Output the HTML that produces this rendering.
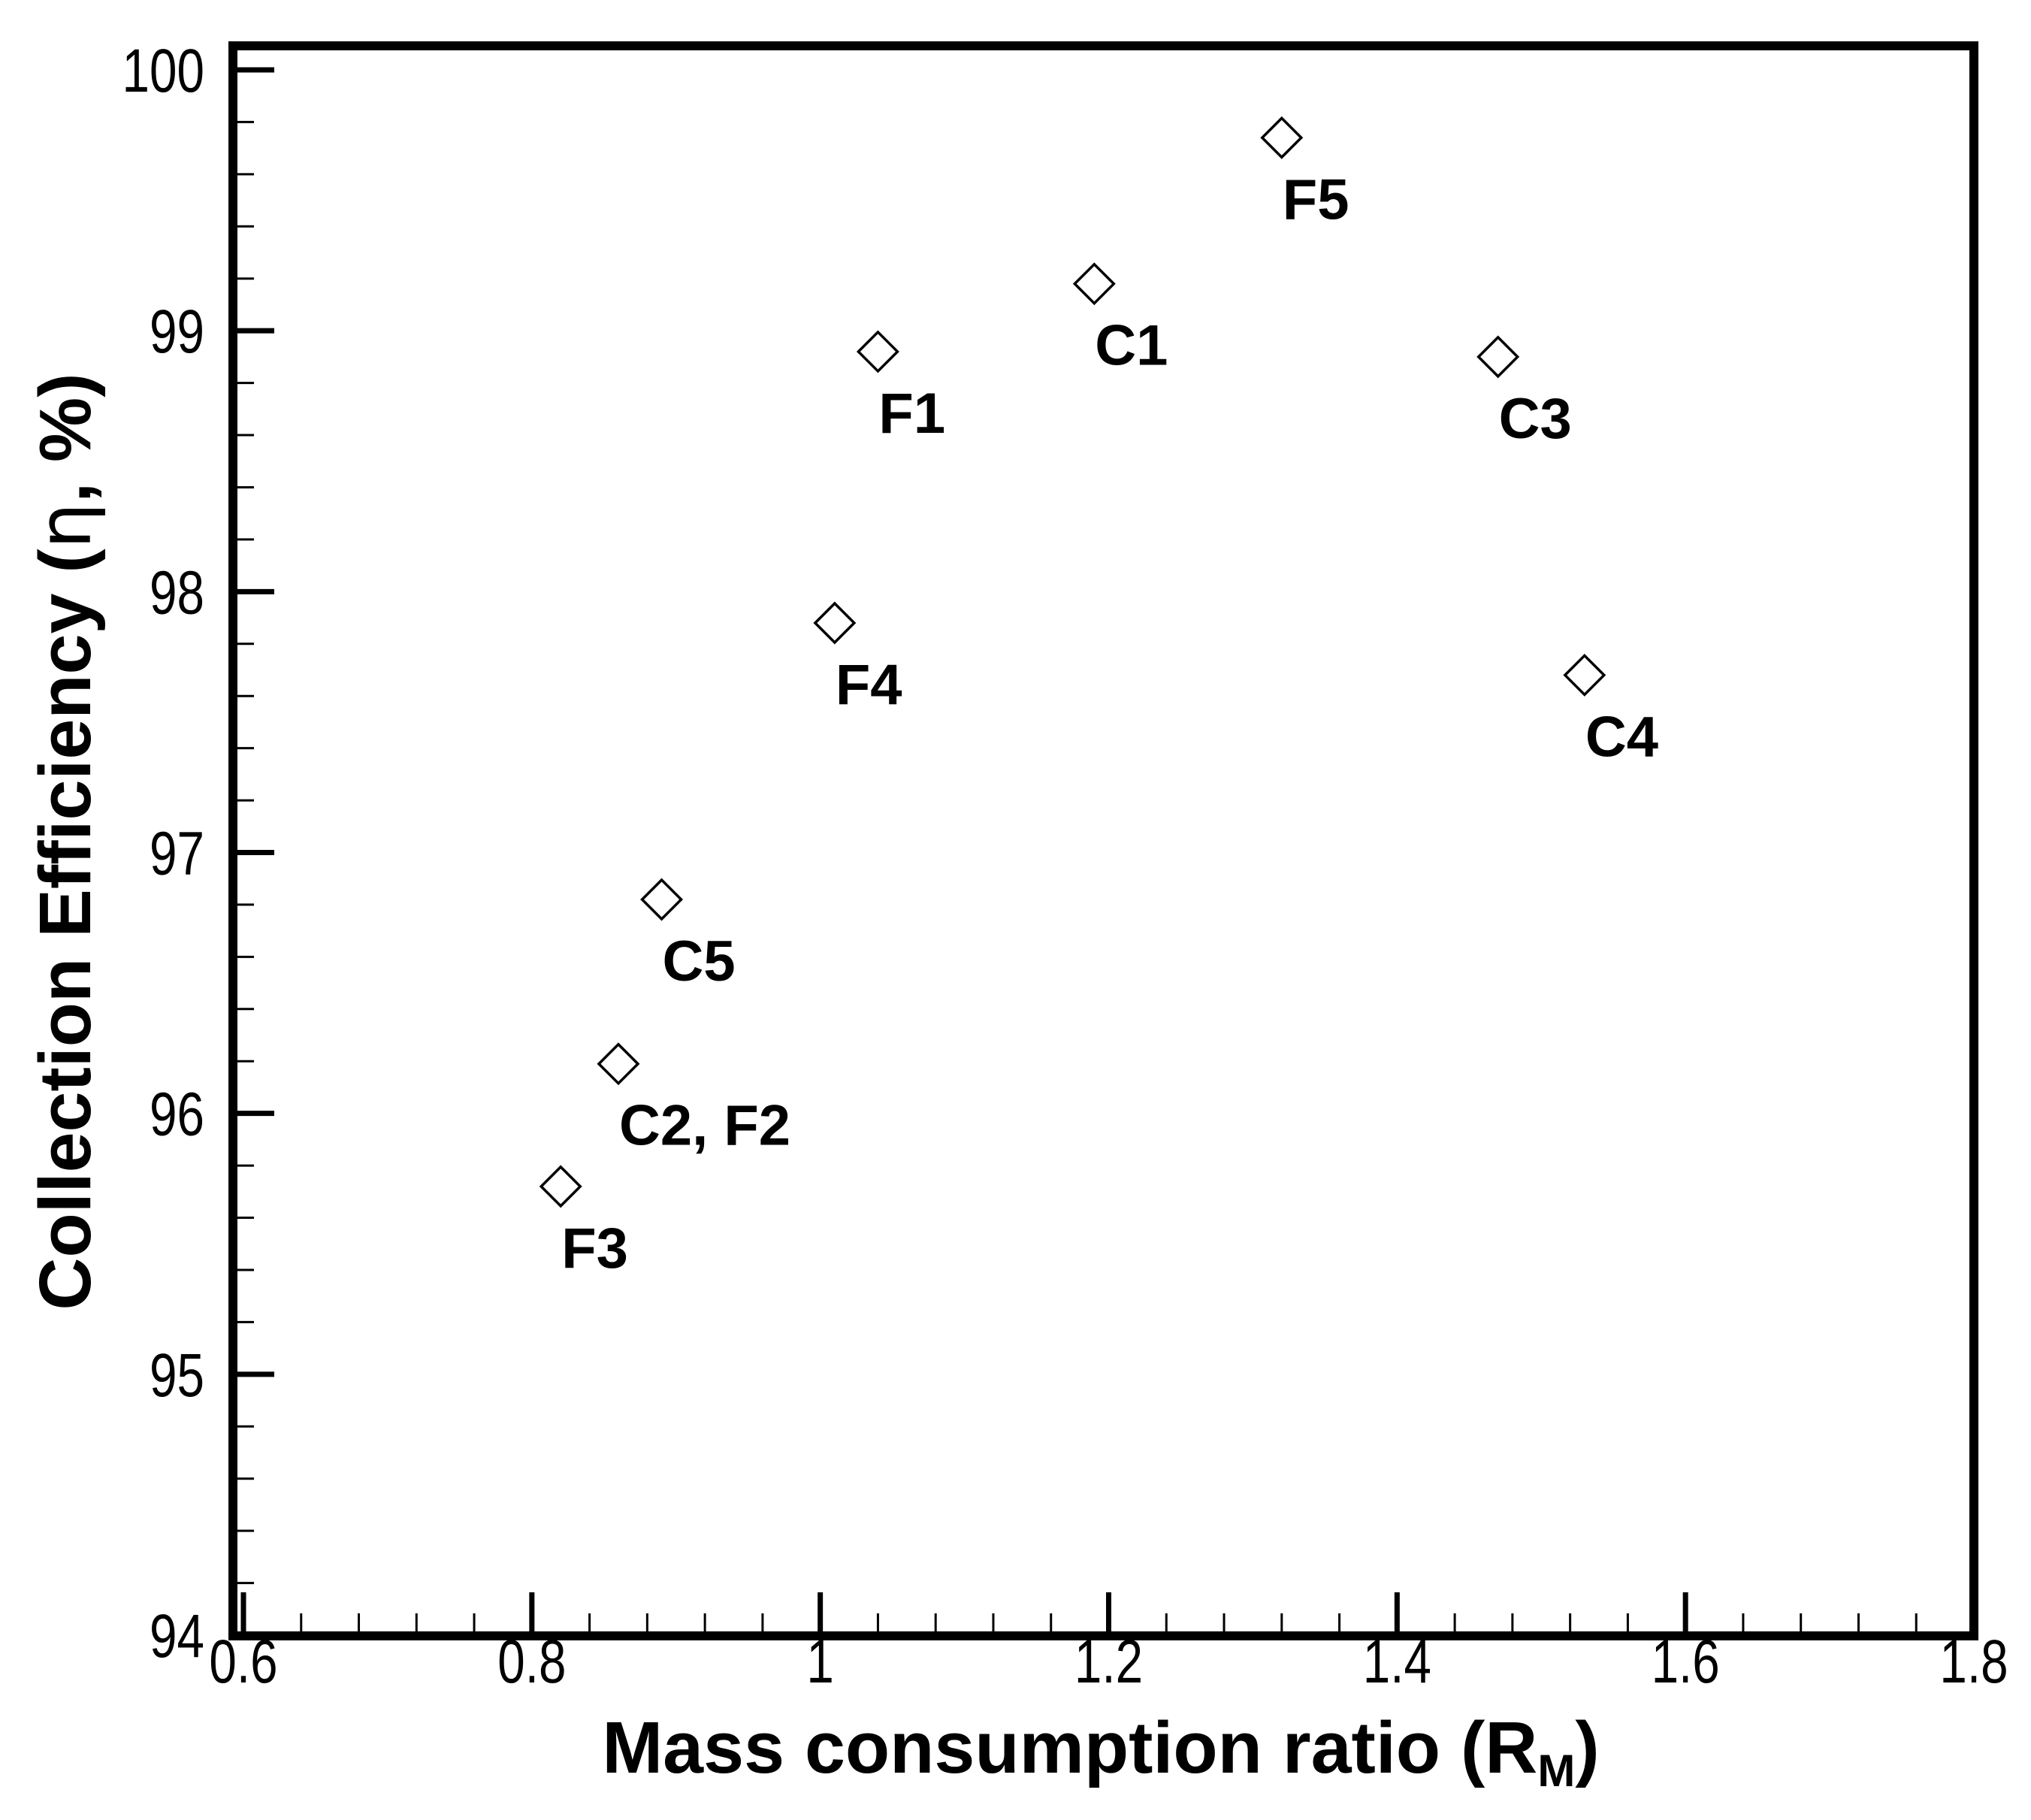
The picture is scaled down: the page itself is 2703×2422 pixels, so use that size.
<!DOCTYPE html>
<html><head><meta charset="utf-8"><style>
html,body{margin:0;padding:0;background:#fff;}
svg{display:block;font-family:"Liberation Sans",Arial,sans-serif;}
</style></head><body>
<svg id="chart" width="2703" height="2422" viewBox="0 0 2703 2422" xmlns="http://www.w3.org/2000/svg">
<g id="axes"></g>
<g id="marks"></g>
<text x="1465" y="2359" text-anchor="middle" font-size="97" font-weight="bold">Mass consumption ratio (R<tspan font-size="60" dy="18">M</tspan><tspan dy="-18">)</tspan></text>
<text transform="translate(120,1120) rotate(-90)" text-anchor="middle" font-size="97" font-weight="bold">Collection Efficiency (<tspan font-weight="normal" font-family="DejaVu Sans, sans-serif">η</tspan>, %)</text>
</svg>
<script>
const labels = ["F3","C2, F2","C5","F4","F1","C1","F5","C3","C4"];
const xValues = [0.82,0.86,0.89,1.01,1.04,1.19,1.32,1.47,1.53];
const yValues = [95.72,96.19,96.82,97.88,98.92,99.18,99.74,98.90,97.68];
const xTicks = [0.6,0.8,1.0,1.2,1.4,1.6,1.8];
const xTickLabels = ["0.6","0.8","1","1.2","1.4","1.6","1.8"];
const yTicks = [94,95,96,97,98,99,100];
const yTickLabels = ["94","95","96","97","98","99","100"];

const NS="http://www.w3.org/2000/svg";
const L=310,R=2627,T=61,B=2177;
function sx(v){return 324+(v-0.6)/1.2*(2627-324);}
function sy(v){return 2176-(v-94)/6*(2176-93);}
const axes=document.getElementById('axes');
const marks=document.getElementById('marks');
function mk(tag,attrs,parent){const e=document.createElementNS(NS,tag);for(const k in attrs)e.setAttribute(k,attrs[k]);parent.appendChild(e);return e;}

const frame=mk('rect',{x:L,y:T,width:R-L,height:B-T,fill:'none',stroke:'#000','stroke-width':12},axes);



for(let v=94;v<=100.001;v+=0.2){
  const major=Math.abs(v-Math.round(v))<1e-6;
  const y=sy(v);
  const t=mk('line',{x1:L,x2:L+(major?55:28),y1:y,y2:y,stroke:'#000','stroke-width':major?7:3},axes);
  
  
}
yTicks.forEach((v,i)=>{
  const t=mk('text',{transform:`translate(272,${sy(v)+29}) scale(0.8,1)`,'text-anchor':'end','font-size':82},axes);
  t.textContent=yTickLabels[i];
  
  
});
for(let i=0;i<=30;i++){
  const v=0.6+i*0.04;
  const major=i%5===0;
  const x=sx(v);
  const t=mk('line',{x1:x,x2:x,y1:B,y2:B-(major?58:30),stroke:'#000','stroke-width':major?7:3},axes);
  
  
}
xTicks.forEach((v,i)=>{
  const t=mk('text',{transform:`translate(${sx(v)},2239) scale(0.8,1)`,'text-anchor':'middle','font-size':82},axes);
  t.textContent=xTickLabels[i];
  
  
});
const h=26;
xValues.forEach((xv,i)=>{
  const x=sx(xv),y=sy(yValues[i]);
  const p=mk('polygon',{points:`${x},${y-h} ${x+h},${y} ${x},${y+h} ${x-h},${y}`,fill:'#fff',stroke:'#000','stroke-width':3.5},marks);
  
  
  const t=mk('text',{x:x+1,y:y+108,'font-size':76,'font-weight':'bold'},marks);
  t.textContent=labels[i];
  
  
});
</script>
</body></html>
